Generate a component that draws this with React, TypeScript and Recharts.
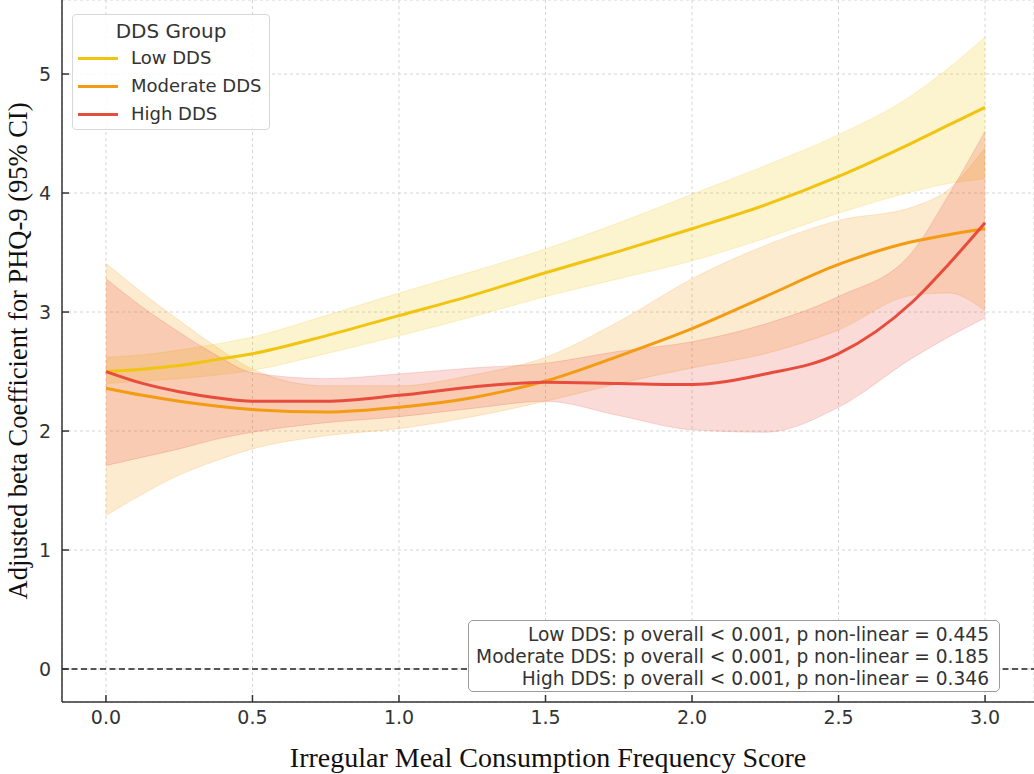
import React from 'react';
import {
  ComposedChart,
  Line,
  Area,
  XAxis,
  YAxis,
  CartesianGrid,
  ReferenceLine,
  Legend,
} from 'recharts';

// x positions of the fitted curves (irregular meal score)
const xs = [0, 0.125, 0.25, 0.375, 0.5, 0.75, 1.0, 1.25, 1.5, 1.75, 2.0, 2.25, 2.5, 2.75, 2.875, 3.0];

const lowFit = [2.5, 2.52, 2.55, 2.6, 2.65, 2.8, 2.97, 3.14, 3.33, 3.51, 3.7, 3.9, 4.14, 4.42, 4.57, 4.72];
const lowLower = [2.4, 2.42, 2.44, 2.47, 2.51, 2.65, 2.8, 2.96, 3.13, 3.28, 3.43, 3.62, 3.83, 4.01, 4.08, 4.12];
const lowUpper = [2.62, 2.64, 2.68, 2.73, 2.79, 2.97, 3.16, 3.34, 3.53, 3.75, 3.99, 4.23, 4.49, 4.82, 5.05, 5.31];

const modFit = [2.36, 2.3, 2.25, 2.21, 2.18, 2.16, 2.2, 2.28, 2.42, 2.63, 2.86, 3.13, 3.4, 3.59, 3.65, 3.7];
const modLower = [1.29, 1.47, 1.63, 1.75, 1.85, 1.96, 2.02, 2.12, 2.25, 2.4, 2.53, 2.65, 2.85, 3.14, 3.16, 3.01];
const modUpper = [3.41, 3.16, 2.93, 2.71, 2.52, 2.38, 2.38, 2.47, 2.62, 2.92, 3.28, 3.56, 3.77, 3.88, 4.03, 4.38];

const highFit = [2.5, 2.4, 2.33, 2.28, 2.25, 2.25, 2.3, 2.37, 2.41, 2.4, 2.39, 2.48, 2.65, 3.08, 3.4, 3.75];
const highLower = [1.71, 1.78, 1.85, 1.93, 1.99, 2.07, 2.12, 2.19, 2.25, 2.13, 2.01, 1.99, 2.2, 2.61, 2.79, 2.95];
const highUpper = [3.28, 3.04, 2.83, 2.64, 2.49, 2.44, 2.48, 2.53, 2.57, 2.67, 2.75, 2.9, 3.13, 3.5, 3.98, 4.52];

const xTicks = [0, 0.5, 1, 1.5, 2, 2.5, 3];
const yTicks = [0, 1, 2, 3, 4, 5];

const seriesNames = ['Low DDS', 'Moderate DDS', 'High DDS'];
const seriesColors = ['#F1C40F', '#F39C12', '#E74C3C'];

const pValueLines = [
  'Low DDS: p overall < 0.001, p non-linear = 0.445',
  'Moderate DDS: p overall < 0.001, p non-linear = 0.185',
  'High DDS: p overall < 0.001, p non-linear = 0.346',
];

const data = xs.map((x, i) => ({
  x,
  low: lowFit[i],
  lowBand: [lowLower[i], lowUpper[i]],
  mod: modFit[i],
  modBand: [modLower[i], modUpper[i]],
  high: highFit[i],
  highBand: [highLower[i], highUpper[i]],
}));

const sansFont = '"DejaVu Sans", sans-serif';
const serifFont = '"Liberation Serif", "Times New Roman", serif';

function LegendBox({ payload }: { payload?: Array<{ value: string; color: string }> }) {
  const items = seriesNames.map((name, i) => {
    const hit = payload?.find((p) => p.value === name);
    return { name, color: hit?.color ?? seriesColors[i] };
  });
  return (
    <div
      style={{
        position: 'relative',
        width: 198,
        height: 116,
        boxSizing: 'border-box',
        border: '1px solid #d8d8d8',
        borderRadius: 4,
        background: 'rgba(255,255,255,0.85)',
        fontFamily: sansFont,
        fontSize: 18,
        color: '#333',
      }}
    >
      <div style={{ position: 'absolute', top: 3, left: 0, width: '100%', textAlign: 'center', lineHeight: '26px', fontSize: 20 }}>
        DDS Group
      </div>
      {items.map((it, i) => (
        <div key={it.name} style={{ position: 'absolute', left: 0, top: 31 + i * 28, height: 24, width: '100%' }}>
          <div style={{ position: 'absolute', left: 5, top: 11, width: 40, height: 3, background: it.color }} />
          <div style={{ position: 'absolute', left: 58, top: 0, lineHeight: '24px', whiteSpace: 'nowrap' }}>{it.name}</div>
        </div>
      ))}
    </div>
  );
}

export default function App() {
  return (
    <div style={{ position: 'absolute', left: 0, top: 0, width: 1034, height: 774, background: '#fff' }}>
      <ComposedChart width={1034} height={774} data={data} margin={{ top: 0, right: 0, bottom: 0, left: 0 }}>
        <CartesianGrid stroke="#d4d4d4" strokeDasharray="3 3" />
        <XAxis
          type="number"
          dataKey="x"
          domain={[-0.15, 3.167]}
          ticks={xTicks}
          allowDataOverflow
          tickFormatter={(v: number) => v.toFixed(1)}
          height={72}
          stroke="#333"
          strokeWidth={1.5}
          tickSize={-7}
          tickMargin={16}
          tick={{ fontSize: 19, fill: '#333', fontFamily: sansFont }}
          label={{
            value: 'Irregular Meal Consumption Frequency Score',
            position: 'insideBottom',
            offset: 7,
            style: { fontSize: 28, fill: '#111', fontFamily: serifFont },
          }}
        />
        <YAxis
          type="number"
          domain={[-0.277, 5.622]}
          ticks={yTicks}
          allowDataOverflow
          width={62}
          stroke="#333"
          strokeWidth={1.5}
          tickSize={-7}
          tickMargin={18}
          tick={{ fontSize: 19, fill: '#333', fontFamily: sansFont }}
          label={{
            value: 'Adjusted beta Coefficient for PHQ-9 (95% CI)',
            angle: -90,
            position: 'insideLeft',
            offset: 18,
            style: { fontSize: 26.5, fill: '#111', fontFamily: serifFont, textAnchor: 'middle' },
          }}
        />
        <ReferenceLine y={0} stroke="#222" strokeWidth={1.5} strokeDasharray="6 3.5" />
        <Area
          type="monotone"
          dataKey="lowBand"
          fill={seriesColors[0]}
          fillOpacity={0.2}
          stroke={seriesColors[0]}
          strokeOpacity={0.2}
          legendType="none"
          isAnimationActive={false}
        />
        <Area
          type="monotone"
          dataKey="modBand"
          fill={seriesColors[1]}
          fillOpacity={0.2}
          stroke={seriesColors[1]}
          strokeOpacity={0.2}
          legendType="none"
          isAnimationActive={false}
        />
        <Area
          type="monotone"
          dataKey="highBand"
          fill={seriesColors[2]}
          fillOpacity={0.2}
          stroke={seriesColors[2]}
          strokeOpacity={0.2}
          legendType="none"
          isAnimationActive={false}
        />
        <Line type="monotone" dataKey="low" name={seriesNames[0]} stroke={seriesColors[0]} strokeWidth={3} dot={false} isAnimationActive={false} />
        <Line type="monotone" dataKey="mod" name={seriesNames[1]} stroke={seriesColors[1]} strokeWidth={3} dot={false} isAnimationActive={false} />
        <Line type="monotone" dataKey="high" name={seriesNames[2]} stroke={seriesColors[2]} strokeWidth={3} dot={false} isAnimationActive={false} />
        <Legend
          layout="horizontal"
          verticalAlign="middle"
          align="center"
          content={<LegendBox />}
          wrapperStyle={{ left: 72, top: 14, width: 198, height: 116 }}
        />
      </ComposedChart>
      <div
        style={{
          position: 'absolute',
          left: 468,
          top: 620,
          width: 532,
          height: 72,
          boxSizing: 'border-box',
          border: '1px solid #9a9a9a',
          borderRadius: 5,
          background: '#fff',
          paddingTop: 3,
          paddingRight: 10,
          textAlign: 'right',
          fontFamily: sansFont,
          fontSize: 18.6,
          lineHeight: '22px',
          color: '#333',
          whiteSpace: 'nowrap',
        }}
      >
        {pValueLines.map((t) => (
          <div key={t}>{t}</div>
        ))}
      </div>
    </div>
  );
}
